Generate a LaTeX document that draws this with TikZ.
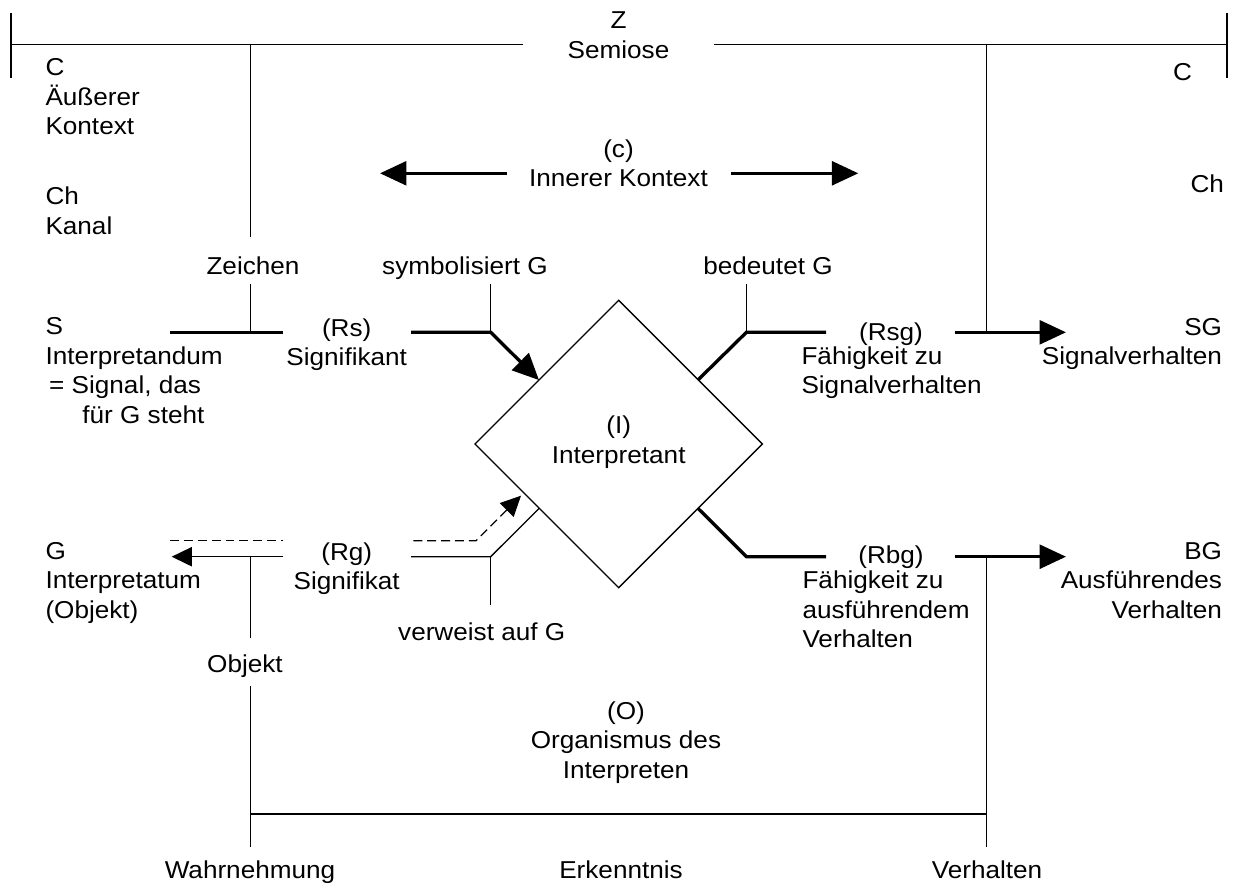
\documentclass[tikz,border=0pt]{standalone}
\usepackage{fontspec}
\setmainfont{Liberation Sans}[FakeStretch=1.07]
\usetikzlibrary{arrows.meta,shapes.geometric,calc}
\begin{document}
\begin{tikzpicture}[x=0.02cm,y=-0.02cm,
  txt/.style={inner sep=0pt, outer sep=0pt, font=\fontsize{13.9pt}{16.8pt}\selectfont,
    execute at begin node=\strut, execute at end node=\strut},
  lnthin/.style={line width=0.75pt},
  lnthick/.style={line width=1.9pt},
  lnbottom/.style={line width=1pt},
  bigarrow/.style={lnthick, -{Triangle[length=15pt,width=13.5pt]}},
  smallarrow/.style={lnthin, -{Triangle[length=11.5pt,width=11pt]}},
  dashline/.style={lnthin, dash pattern=on 5.1pt off 2.8pt},
]
\useasboundingbox (0,0) rectangle (1235,887);

% ---------- text nodes ----------
\node[txt, anchor=north, align=center] (Z) at (618.5,12) {Z\\Semiose};
\node[txt, anchor=north west, align=left] (C) at (45.5,58.6) {C\\Äußerer\\Kontext};
\node[txt, anchor=north west, align=left] (Ch) at (45.5,187) {Ch\\Kanal};
\node[txt, anchor=base east] (Cr) at (1192,80) {C};
\node[txt, anchor=base east] (Chr) at (1224,192.7) {Ch};
\node[txt, anchor=north, align=center] (ctx) at (618.5,139.3) {(c)\\Innerer Kontext};
\node[txt, anchor=base] (zei) at (253,274) {Zeichen};
\node[txt, anchor=base] (sym) at (465,274) {symbolisiert G};
\node[txt, anchor=base] (bed) at (768,274) {bedeutet G};
\node[txt, anchor=north west, align=left] (S) at (45.5,317.6)
  {S\\Interpretandum\\\hspace*{2.1pt}= Signal, das\\\hspace*{21pt}für G steht};
\node[txt, anchor=north, align=center] (Rs) at (346.7,318.3) {(Rs)\\Signifikant};
\node[txt, draw, diamond, lnthin, align=center, minimum width=5.748cm, minimum height=5.748cm]
  (I) at (618.7,444) {(I)\\Interpretant};
\node[txt, anchor=base] (Rsg) at (891,340) {(Rsg)};
\node[txt, anchor=north west, align=left] (RsgT) at (801.5,346.3) {Fähigkeit zu\\Signalverhalten};
\node[txt, anchor=north east, align=right] (SG) at (1222,318.3) {SG\\Signalverhalten};
\node[txt, anchor=north west, align=left] (G) at (45.5,542.3) {G\\Interpretatum\\(Objekt)};
\node[txt, anchor=north, align=center] (Rg) at (346.7,542.3) {(Rg)\\Signifikat};
\node[txt, anchor=base] (vw) at (481.7,640) {verweist auf G};
\node[txt, anchor=base] (Rbg) at (891,563) {(Rbg)};
\node[txt, anchor=north west, align=left] (RbgT) at (802.5,571) {Fähigkeit zu\\ausführendem\\Verhalten};
\node[txt, anchor=north east, align=right] (BG) at (1222,542.3) {BG\\Ausführendes\\Verhalten};
\node[txt, anchor=base] (obj) at (245,672.3) {Objekt};
\node[txt, anchor=north, align=center] (O) at (626,701.3) {(O)\\Organismus des\\Interpreten};
\node[txt, anchor=base] (wahr) at (250,878) {Wahrnehmung};
\node[txt, anchor=base] (erk) at (621,878) {Erkenntnis};
\node[txt, anchor=base] (verh) at (987,878) {Verhalten};

% ---------- coordinates ----------
% top frame
\coordinate (tlEnd) at (11,44.5);
\coordinate (tlTop) at (11,13);
\coordinate (tlBot) at (11,78);
\coordinate (trEnd) at (1227,44.5);
\coordinate (trTop) at (1227,13);
\coordinate (trBot) at (1227,78);
\coordinate (gapL) at (523,44.5);
\coordinate (gapR) at (714,44.5);
\coordinate (zTop) at (250.7,44.5);
\coordinate (zBot) at (250.7,237);
\coordinate (sgTop) at (986.7,44.5);
% inner context
\coordinate (icL) at (506.7,173.3);
\coordinate (icLtip) at (380,173.3);
\coordinate (icR) at (731,173.3);
\coordinate (icRtip) at (858.3,173.3);
% Rs row
\coordinate (sL) at (170,332.3);
\coordinate (zJ) at (250.7,332.3);
\coordinate (zT) at (250.7,284);
\coordinate (sR) at (283.3,332.3);
\coordinate (rsL) at (411,332.3);
\coordinate (syJ) at (490.7,332.3);
\coordinate (syT) at (490.7,284);
\coordinate (rsE) at ($(I.west)!0.445!(I.north)$);
% Rsg row
\coordinate (rsgE) at ($(I.east)!0.447!(I.north)$);
\coordinate (bdT) at (746.4,284);
\coordinate (bdJ) at (746.4,332.3);
\coordinate (rsgR) at (826,332.3);
\coordinate (sgL) at (955,332.3);
\coordinate (sgJ) at (986.7,332.3);
\coordinate (sgTip) at (1066,332.3);
% Rbg row
\coordinate (rbgE) at ($(I.east)!0.448!(I.south)$);
\coordinate (rbJ) at (746.4,556.7);
\coordinate (rbgR) at (826,556.7);
\coordinate (bgL) at (955,556.7);
\coordinate (bgJ) at (986.7,556.7);
\coordinate (bgTip) at (1066,556.7);
\coordinate (vhBot) at (986.7,846.7);
\coordinate (orgR) at (986.7,814);
% bottom
\coordinate (orgL) at (250.7,814);
\coordinate (whTop) at (250.7,686);
\coordinate (whBot) at (250.7,846.7);
% Rg row
\coordinate (gTip) at (171.7,556.7);
\coordinate (rgLR) at (283.3,556.7);
\coordinate (objJ) at (250.7,556.7);
\coordinate (objB) at (250.7,637.7);
\coordinate (dashL1) at (170,540.7);
\coordinate (dashL2) at (283.3,540.7);
\coordinate (rgRL) at (411,556.7);
\coordinate (vwJ) at (490.7,556.7);
\coordinate (vwB) at (490.7,605);
\coordinate (rgE) at ($(I.west)!0.447!(I.south)$);
\coordinate (dashR1) at (413.3,540.7);
\coordinate (dashR2) at (476,540.7);
\coordinate (dashTip) at (521,495.7);

% ---------- connectors ----------
\draw[lnthin] (tlEnd) -- (gapL);
\draw[lnthin] (gapR) -- (trEnd);
\draw[lnthin] (tlTop) -- (tlBot);
\draw[lnthin] (trTop) -- (trBot);
\draw[lnthin] (zTop) -- (zBot);
\draw[lnthin] (sgTop) -- (sgJ);

\draw[bigarrow] (icL) -- (icLtip);
\draw[bigarrow] (icR) -- (icRtip);

\draw[lnthick] (sL) -- (sR);
\draw[lnthin] (zT) -- (zJ);
\draw[lnthin] (syT) -- (syJ);
\draw[bigarrow] (rsL) -- (syJ) -- (rsE);

\draw[lnthin] (bdT) -- (bdJ);
\draw[lnthick] (rsgE) -- (bdJ) -- (rsgR);
\draw[bigarrow] (sgL) -- (sgTip);

\draw[lnthick] (rbgE) -- (rbJ) -- (rbgR);
\draw[bigarrow] (bgL) -- (bgTip);
\draw[lnthin] (bgJ) -- (vhBot);

\draw[lnthin] (whTop) -- (whBot);
\draw[lnbottom] (orgL) -- (orgR);

\draw[smallarrow] (rgLR) -- (gTip);
\draw[lnthin] (objJ) -- (objB);
\draw[dashline] (dashL1) -- (dashL2);
\draw[lnthin] (rgRL) -- (vwJ) -- (rgE);
\draw[lnthin] (vwJ) -- (vwB);
\draw[dashline, -{Triangle[length=11.5pt,width=11pt]}] (dashR1) -- (dashR2) -- (dashTip);
\end{tikzpicture}
\end{document}
